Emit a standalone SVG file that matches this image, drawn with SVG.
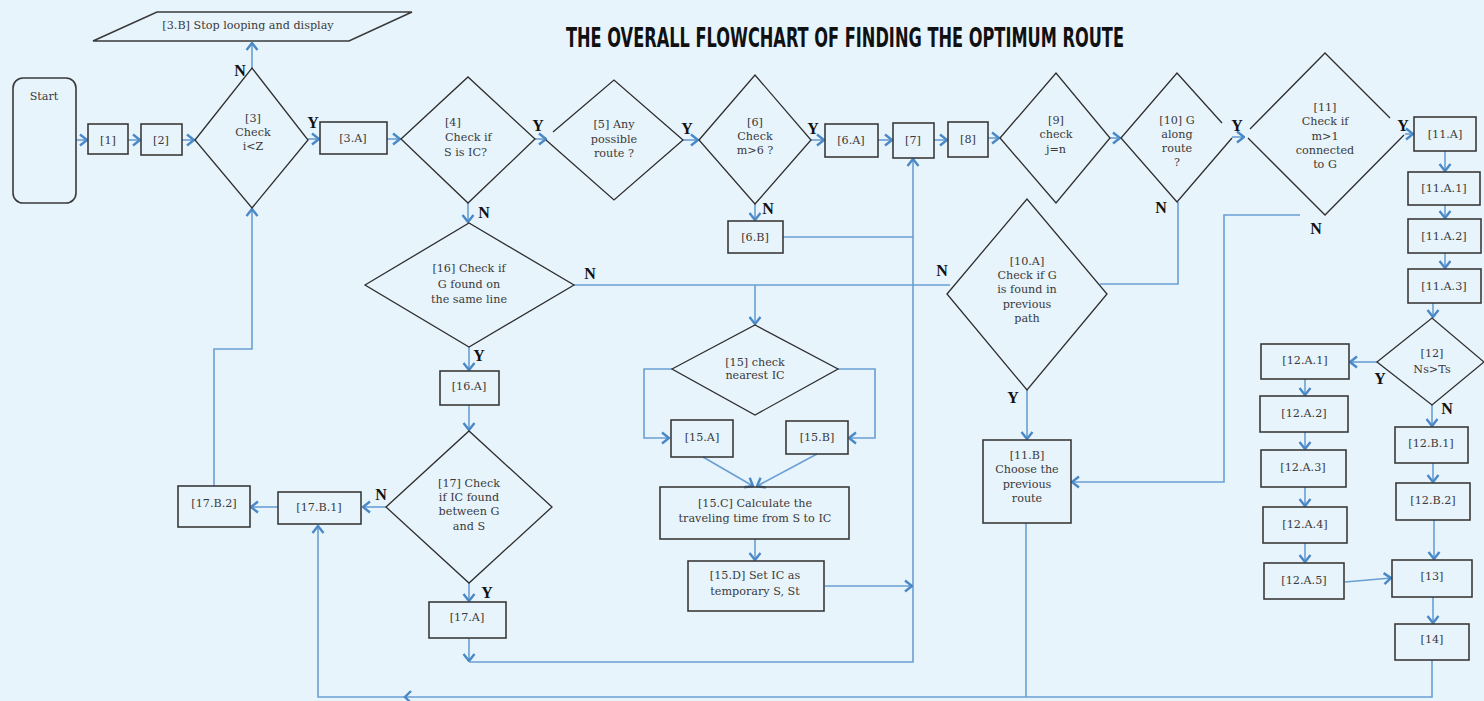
<svg xmlns="http://www.w3.org/2000/svg" width="1484" height="701" viewBox="0 0 1484 701">
<defs>
<marker id="ah" viewBox="0 0 9 14" refX="8" refY="7" markerWidth="9" markerHeight="14" markerUnits="userSpaceOnUse" orient="auto">
<path d="M1,1.5 L8,7 L1,12.5" fill="none" stroke="#4a88c6" stroke-width="2.4"/>
</marker>
<style>
.bg{fill:#e8f4fc}
.box{fill:none;stroke:#3a3a3a;stroke-width:1.6}
.dia{fill:none;stroke:#2e2e2e;stroke-width:1.3}
.t{font-family:"DejaVu Serif","Liberation Serif",serif;font-size:11.2px;fill:#3a3a3a;text-anchor:middle}
.tl{font-family:"DejaVu Serif","Liberation Serif",serif;font-size:11.2px;fill:#3a3a3a;text-anchor:start}
.lb{font-family:"Liberation Serif","DejaVu Serif",serif;font-size:16px;font-weight:bold;fill:#111;text-anchor:middle}
.title{font-family:"Liberation Sans Narrow","DejaVu Sans Condensed","Liberation Sans",sans-serif;font-size:26px;font-weight:bold;fill:#111}
#connectors path{fill:none;stroke:#6a9fd3;stroke-width:1.6}
#connectors path.a{marker-end:url(#ah)}
</style>
</defs>
<rect class="bg" x="0" y="0" width="1484" height="701"/>
<text class="title" x="566" y="47" textLength="558" lengthAdjust="spacingAndGlyphs">THE OVERALL FLOWCHART OF FINDING THE OPTIMUM ROUTE</text>

<g id="connectors">
<path class="a" d="M76,140 H87"/>
<path class="a" d="M128,140 H140"/>
<path class="a" d="M182,140 H194"/>
<path class="a" d="M252,68 V43"/>
<path class="a" d="M308,139 H319"/>
<path class="a" d="M387,139 H400"/>
<path class="a" d="M535,139 H546"/>
<path class="a" d="M683,140 H698"/>
<path class="a" d="M811,140 H824"/>
<path class="a" d="M878,140 H892"/>
<path class="a" d="M934,140 H947"/>
<path class="a" d="M988,138 H999"/>
<path class="a" d="M1110,138 H1120"/>
<path class="a" d="M1232,137 H1244"/>
<path class="a" d="M1405,134 H1413"/>
<path class="a" d="M1445,151 V171"/>
<path class="a" d="M1445,205 V218"/>
<path class="a" d="M1445,253 V268"/>
<path class="a" d="M1433,303 V317"/>
<path class="a" d="M1377,362 H1350"/>
<path class="a" d="M1432,405 V426"/>
<path class="a" d="M1305,379 V395"/>
<path class="a" d="M1305,432 V449"/>
<path class="a" d="M1305,487 V506"/>
<path class="a" d="M1305,543 V562"/>
<path class="a" d="M1345,582 L1391,578"/>
<path class="a" d="M1433,463 V482"/>
<path class="a" d="M1434,520 V559"/>
<path class="a" d="M1433,597 V623"/>
<path class="a" d="M1432,660 V697 H318 V526"/>
<path d="M411,691 L405,697 L411,703" style="stroke:#4a88c6;stroke-width:2.4"/>
<path d="M1026,523 V697"/>
<path class="a" d="M469,638 V661"/>
<path class="a" d="M469,662 H913 V159"/>
<path d="M783,237 H913"/>
<path class="a" d="M825,586 H912"/>
<path class="a" d="M468,203 V222"/>
<path class="a" d="M469,347 V370"/>
<path class="a" d="M469,405 V430"/>
<path class="a" d="M469,583 V601"/>
<path class="a" d="M386,507 H363"/>
<path class="a" d="M278,507 H251"/>
<path class="a" d="M214,486 V349 H252 V209"/>
<path d="M574,285 H950"/>
<path class="a" d="M755,285 V324"/>
<path d="M1178,202 V284 H1100"/>
<path class="a" d="M672,369 H644 V438 H669"/>
<path class="a" d="M838,369 H875 V438 H849"/>
<path class="a" d="M703,457 L753,486"/>
<path class="a" d="M817,454 L757,486"/>
<path class="a" d="M755,539 V560"/>
<path class="a" d="M1027,390 V439"/>
<path class="a" d="M1300,215 H1224 V482 H1072"/>
<path class="a" d="M755,204 V220"/>
</g>

<g id="start"><rect class="box" x="13" y="78" width="63" height="125" rx="10"/><text class="t" x="44" y="100">Start</text></g>
<g id="n1"><rect class="box" x="88" y="124" width="40" height="30"/><text class="t" x="108" y="144">[1]</text></g>
<g id="n2"><rect class="box" x="141" y="124" width="41" height="31"/><text class="t" x="161" y="144">[2]</text></g>
<g id="n3"><polygon class="dia" points="195,140 252,68 308,140 252,208"/><text class="t" x="253" y="122">[3]</text><text class="t" x="253" y="136">Check</text><text class="t" x="253" y="150">i&lt;Z</text></g>
<g id="n3b"><polygon class="box" points="157,12 412,12 349,41 93,41"/><text class="t" x="248" y="29">[3.B] Stop looping and display</text></g>
<g id="n3a"><rect class="box" x="320" y="122" width="67" height="32"/><text class="t" x="353" y="142">[3.A]</text></g>
<g id="n4"><polygon class="dia" points="401,139 468,77 535,139 468,203"/><text class="tl" x="445" y="126">[4]</text><text class="tl" x="445" y="141">Check if</text><text class="tl" x="444" y="156">S is IC?</text></g>
<g id="n5"><path class="dia" d="M553,132 L614,80 L683,140 L614,200 L546,140"/><text class="t" x="614" y="128">[5] Any</text><text class="t" x="614" y="143">possible</text><text class="t" x="614" y="157">route ?</text></g>
<g id="n6"><polygon class="dia" points="699,140 755,75 811,140 755,204"/><text class="t" x="755" y="126">[6]</text><text class="t" x="755" y="140">Check</text><text class="t" x="755" y="154">m&gt;6 ?</text></g>
<g id="n6b"><rect class="box" x="728" y="221" width="55" height="32"/><text class="t" x="755" y="241">[6.B]</text></g>
<g id="n6a"><rect class="box" x="825" y="124" width="53" height="33"/><text class="t" x="851" y="144">[6.A]</text></g>
<g id="n7"><rect class="box" x="893" y="123" width="41" height="35"/><text class="t" x="913" y="144">[7]</text></g>
<g id="n8"><rect class="box" x="948" y="122" width="40" height="35"/><text class="t" x="968" y="143">[8]</text></g>
<g id="n9"><polygon class="dia" points="1000,138 1056,73 1110,138 1056,203"/><text class="t" x="1056" y="124">[9]</text><text class="t" x="1056" y="138">check</text><text class="t" x="1056" y="153">j=n</text></g>
<g id="n10"><path class="dia" d="M1232,138 L1177,202 L1121,138 L1177,73 L1222,123"/><text class="t" x="1177" y="124">[10] G</text><text class="t" x="1177" y="138">along</text><text class="t" x="1177" y="152">route</text><text class="t" x="1177" y="166">?</text></g>
<g id="n11"><path class="dia" d="M1250,129 L1325,53 L1390,118 M1404,135 L1325,215 L1248,138"/><text class="t" x="1325" y="111">[11]</text><text class="t" x="1325" y="125">Check if</text><text class="t" x="1325" y="140">m&gt;1</text><text class="t" x="1325" y="154">connected</text><text class="t" x="1325" y="168">to G</text></g>
<g id="n11a"><rect class="box" x="1414" y="117" width="62" height="34"/><text class="t" x="1445" y="138">[11.A]</text></g>
<g id="n11a1"><rect class="box" x="1408" y="172" width="72" height="33"/><text class="t" x="1444" y="192">[11.A.1]</text></g>
<g id="n11a2"><rect class="box" x="1408" y="219" width="73" height="34"/><text class="t" x="1444" y="240">[11.A.2]</text></g>
<g id="n11a3"><rect class="box" x="1408" y="269" width="73" height="34"/><text class="t" x="1444" y="290">[11.A.3]</text></g>
<g id="n12"><polygon class="dia" points="1377,362 1432,318 1484,362 1432,405"/><text class="t" x="1432" y="357">[12]</text><text class="t" x="1432" y="373">Ns&gt;Ts</text></g>
<g id="n12a1"><rect class="box" x="1261" y="344" width="88" height="35"/><text class="t" x="1305" y="364">[12.A.1]</text></g>
<g id="n12a2"><rect class="box" x="1260" y="396" width="88" height="36"/><text class="t" x="1304" y="417">[12.A.2]</text></g>
<g id="n12a3"><rect class="box" x="1261" y="450" width="85" height="37"/><text class="t" x="1303" y="471">[12.A.3]</text></g>
<g id="n12a4"><rect class="box" x="1263" y="507" width="84" height="36"/><text class="t" x="1305" y="528">[12.A.4]</text></g>
<g id="n12a5"><rect class="box" x="1264" y="563" width="80" height="36"/><text class="t" x="1304" y="584">[12.A.5]</text></g>
<g id="n12b1"><rect class="box" x="1395" y="427" width="73" height="36"/><text class="t" x="1431" y="447">[12.B.1]</text></g>
<g id="n12b2"><rect class="box" x="1396" y="483" width="74" height="37"/><text class="t" x="1433" y="504">[12.B.2]</text></g>
<g id="n13"><rect class="box" x="1392" y="560" width="80" height="37"/><text class="t" x="1432" y="580">[13]</text></g>
<g id="n14"><rect class="box" x="1395" y="624" width="74" height="36"/><text class="t" x="1432" y="643">[14]</text></g>
<g id="n10a"><polygon class="dia" points="947,294 1027,199 1107,294 1027,390"/><text class="t" x="1027" y="265">[10.A]</text><text class="t" x="1027" y="279">Check if G</text><text class="t" x="1027" y="293">is found in</text><text class="t" x="1027" y="308">previous</text><text class="t" x="1027" y="322">path</text></g>
<g id="n11b"><rect class="box" x="983" y="440" width="88" height="83"/><text class="t" x="1027" y="459">[11.B]</text><text class="t" x="1027" y="473">Choose the</text><text class="t" x="1027" y="488">previous</text><text class="t" x="1027" y="502">route</text></g>
<g id="n15"><polygon class="dia" points="672,369 755,325 838,369 755,415"/><text class="t" x="755" y="366">[15] check</text><text class="t" x="755" y="379">nearest IC</text></g>
<g id="n15a"><rect class="box" x="671" y="420" width="62" height="37"/><text class="t" x="702" y="441">[15.A]</text></g>
<g id="n15b"><rect class="box" x="786" y="421" width="62" height="33"/><text class="t" x="817" y="441">[15.B]</text></g>
<g id="n15c"><rect class="box" x="660" y="487" width="189" height="52"/><text class="t" x="755" y="507">[15.C] Calculate the</text><text class="t" x="755" y="522">traveling time from S to IC</text></g>
<g id="n15d"><rect class="box" x="688" y="561" width="136" height="50"/><text class="t" x="755" y="579">[15.D] Set IC as</text><text class="t" x="755" y="595">temporary S, St</text></g>
<g id="n16"><polygon class="dia" points="365,285 469,223 574,285 469,347"/><text class="t" x="469" y="272">[16] Check if</text><text class="t" x="469" y="288">G found on</text><text class="t" x="469" y="303">the same line</text></g>
<g id="n16a"><rect class="box" x="440" y="371" width="59" height="34"/><text class="t" x="469" y="390">[16.A]</text></g>
<g id="n17"><polygon class="dia" points="386,507 469,431 552,507 469,583"/><text class="t" x="469" y="487">[17] Check</text><text class="t" x="469" y="501">if IC found</text><text class="t" x="469" y="515">between G</text><text class="t" x="469" y="530">and S</text></g>
<g id="n17b1"><rect class="box" x="278" y="492" width="83" height="32"/><text class="t" x="319" y="511">[17.B.1]</text></g>
<g id="n17b2"><rect class="box" x="178" y="486" width="72" height="41"/><text class="t" x="214" y="507">[17.B.2]</text></g>
<g id="n17a"><rect class="box" x="429" y="602" width="77" height="36"/><text class="t" x="467" y="621">[17.A]</text></g>

<g id="labels">
<text class="lb" x="240" y="76">N</text>
<text class="lb" x="313" y="128">Y</text>
<text class="lb" x="538" y="131">Y</text>
<text class="lb" x="484" y="218">N</text>
<text class="lb" x="687" y="134">Y</text>
<text class="lb" x="813" y="134">Y</text>
<text class="lb" x="768" y="214">N</text>
<text class="lb" x="1237" y="131">Y</text>
<text class="lb" x="1403" y="131">Y</text>
<text class="lb" x="1161" y="213">N</text>
<text class="lb" x="1316" y="234">N</text>
<text class="lb" x="590" y="279">N</text>
<text class="lb" x="942" y="276">N</text>
<text class="lb" x="1013" y="403">Y</text>
<text class="lb" x="479" y="361">Y</text>
<text class="lb" x="381" y="500">N</text>
<text class="lb" x="487" y="598">Y</text>
<text class="lb" x="1380" y="384">Y</text>
<text class="lb" x="1447" y="414">N</text>
</g>
</svg>
